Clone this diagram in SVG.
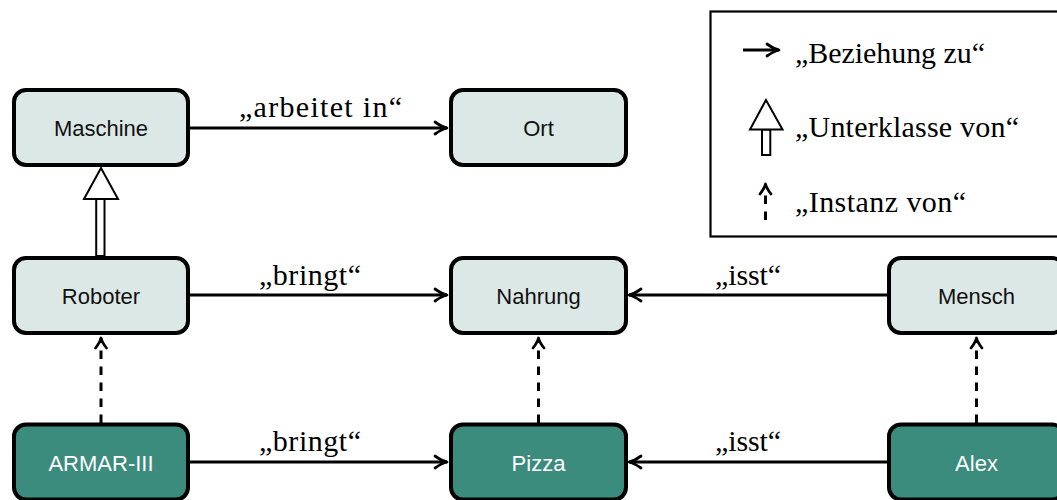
<svg xmlns="http://www.w3.org/2000/svg" width="1057" height="500" viewBox="0 0 1057 500">
<style>
.node rect{stroke:#000;stroke-width:4}
.cls rect{fill:#dce8e5}
.inst rect{fill:#3b8c7c}
.node text{font-family:"Liberation Sans",Arial,sans-serif;font-size:22px;text-anchor:middle}
.cls text{fill:#111}
.inst text{fill:#ffffff}
.rel{stroke:#000;stroke-width:2.8;fill:none;marker-end:url(#to)}
.ins{stroke:#000;stroke-width:3;fill:none;stroke-dasharray:8.5 7.5;marker-end:url(#inst)}
.sub{stroke:#000;stroke-width:2;fill:#fff}
.lbl{font-family:"Liberation Serif","Times New Roman",serif;font-size:30px;fill:#000}
</style>
<defs>
<marker id="to" viewBox="-14 -8 16 16" refX="0" refY="0" markerWidth="16" markerHeight="16" markerUnits="userSpaceOnUse" orient="auto">
<path d="M-12,-6 C-7,-2.5 -3,-0.6 0,0 C-3,0.6 -7,2.5 -12,6" fill="none" stroke="#000" stroke-width="2.8" stroke-linecap="round" stroke-linejoin="round"/>
</marker>
<marker id="inst" viewBox="-14 -8 16 16" refX="0" refY="0" markerWidth="16" markerHeight="16" markerUnits="userSpaceOnUse" orient="auto">
<path d="M-10,-5.5 C-6,-2.3 -2.5,-0.6 0,0 C-2.5,0.6 -6,2.3 -10,5.5" fill="none" stroke="#000" stroke-width="2.8" stroke-dasharray="none" stroke-linecap="round" stroke-linejoin="round"/>
</marker>
</defs>
<rect width="1057" height="500" fill="#fff"/>

<g id="legend">
<rect x="710.5" y="11.5" width="360" height="225" fill="#fff" stroke="#000" stroke-width="2.2"/>
<line x1="743" y1="50" x2="779" y2="50" class="rel"/>
<text class="lbl" x="795" y="63" textLength="190" lengthAdjust="spacing">„Beziehung zu“</text>
<rect class="sub" x="762" y="129.5" width="8.3" height="25.5"/>
<polygon class="sub" points="766,100 750,129.5 782.5,129.5"/>
<text class="lbl" x="795" y="137" textLength="224" lengthAdjust="spacing">„Unterklasse von“</text>
<line x1="765.5" y1="220" x2="765.5" y2="184" class="ins"/>
<text class="lbl" x="795" y="212" textLength="171" lengthAdjust="spacing">„Instanz von“</text>
</g>

<g id="connectors">
<line x1="190" y1="128" x2="447" y2="128" class="rel"/>
<line x1="190" y1="295" x2="447" y2="295" class="rel"/>
<line x1="887" y1="295" x2="629" y2="295" class="rel"/>
<line x1="190" y1="462" x2="447" y2="462" class="rel"/>
<line x1="887" y1="462" x2="629" y2="462" class="rel"/>
<line x1="101" y1="423" x2="101" y2="338" class="ins"/>
<line x1="538.5" y1="423" x2="538.5" y2="338" class="ins"/>
<line x1="976.5" y1="423" x2="976.5" y2="338" class="ins"/>
<rect class="sub" x="96.2" y="199" width="8.3" height="57"/>
<polygon class="sub" points="101,168 84,199 118,199"/>
<text class="lbl" x="239" y="117" textLength="163" lengthAdjust="spacing">„arbeitet in“</text>
<text class="lbl" x="259" y="285" textLength="102" lengthAdjust="spacing">„bringt“</text>
<text class="lbl" x="715" y="285" textLength="66" lengthAdjust="spacing">„isst“</text>
<text class="lbl" x="259" y="451" textLength="102" lengthAdjust="spacing">„bringt“</text>
<text class="lbl" x="715" y="451" textLength="66" lengthAdjust="spacing">„isst“</text>
</g>

<g id="maschine" class="node cls"><rect x="14" y="90" width="174" height="75" rx="12"/><text x="101" y="136">Maschine</text></g>
<g id="ort" class="node cls"><rect x="451" y="90" width="175" height="75" rx="12"/><text x="538.5" y="136">Ort</text></g>
<g id="roboter" class="node cls"><rect x="14" y="258" width="174" height="75" rx="12"/><text x="101" y="304">Roboter</text></g>
<g id="nahrung" class="node cls"><rect x="451" y="258" width="175" height="75" rx="12"/><text x="538.5" y="304">Nahrung</text></g>
<g id="mensch" class="node cls"><rect x="889" y="258" width="175" height="75" rx="12"/><text x="976.5" y="304">Mensch</text></g>
<g id="armar" class="node inst"><rect x="14" y="424.5" width="174" height="75" rx="12"/><text x="101" y="471">ARMAR-III</text></g>
<g id="pizza" class="node inst"><rect x="451" y="424.5" width="175" height="75" rx="12"/><text x="538.5" y="471">Pizza</text></g>
<g id="alex" class="node inst"><rect x="889" y="424.5" width="175" height="75" rx="12"/><text x="976.5" y="471">Alex</text></g>
</svg>
